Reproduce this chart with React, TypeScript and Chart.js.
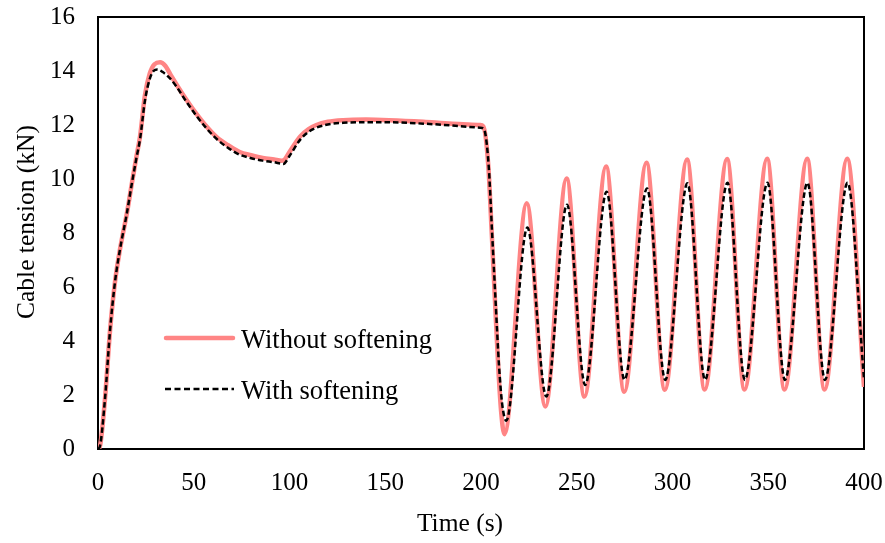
import React, { useEffect, useRef } from "react";
import { Chart, registerables } from "chart.js";

Chart.register(...registerables);

// Time (s) and cable tension (kN) — without softening (solid salmon)
const timeWithout = [
  0, 1, 3.7, 6.3, 8.9, 11.5, 15, 17.6, 20, 22, 24.5, 27, 29.5, 32.4, 35, 38, 41, 46, 51.5, 56, 62, 68, 74, 80, 86, 92, 96, 97.5,
  100, 105.5, 110, 114, 120, 128, 140, 152, 170, 185, 199.5, 201.2, 203.8, 205.6, 207.3, 209, 210.5, 212.2,
  223.9, 233.6, 244.7, 254.0, 265.3, 274.8, 286.4, 296.0, 307.6, 316.8, 328.5, 337.6, 349.4, 358.5, 370.3, 379.4, 391.2, 400,
];
const tensionWithout = [
  0, 0.1, 1.9, 4.4, 6.2, 7.4, 8.7, 9.8, 10.8, 11.6, 13.1, 13.9, 14.25, 14.32, 14.2, 13.85, 13.5, 12.95, 12.4, 12.0, 11.55, 11.25, 11.0, 10.88, 10.78, 10.72, 10.68, 10.72,
  11.0, 11.57, 11.85, 12.0, 12.12, 12.18, 12.2, 12.18, 12.12, 12.05, 12.0, 11.95, 10.5, 8.0, 5.5, 3.05, 1.4, 0.55,
  9.1, 1.57, 10.02, 1.94, 10.46, 2.12, 10.6, 2.19, 10.72, 2.2, 10.74, 2.2, 10.75, 2.2, 10.75, 2.2, 10.75, 2.3,
];

// With softening (black dashed)
const timeWith = [
  0, 1, 3.7, 6.3, 8.9, 11.5, 15, 17.6, 20, 22, 24.5, 27, 29, 31, 34, 38, 41, 46, 51.5, 56, 62, 68, 74, 80, 86, 92, 96.8,
  100, 105.5, 110, 114, 120, 128, 140, 152, 170, 185, 199.5, 201.5, 204, 205.8, 207.6, 209.4, 211, 213.2,
  224.2, 234.1, 244.9, 254.4, 265.6, 274.9, 286.7, 296.2, 307.8, 317.0, 328.7, 337.8, 349.6, 358.7, 370.5, 379.6, 391.4, 400,
];
const tensionWith = [
  0, 0.1, 1.9, 4.4, 6.2, 7.4, 8.7, 9.8, 10.75, 11.5, 12.9, 13.7, 14.0, 14.06, 13.95, 13.7, 13.42, 12.88, 12.33, 11.93, 11.48, 11.15, 10.9, 10.77, 10.68, 10.62, 10.56,
  10.85, 11.45, 11.75, 11.9, 12.02, 12.08, 12.1, 12.1, 12.05, 11.98, 11.9, 11.85, 10.5, 8.0, 5.5, 3.1, 1.7, 1.05,
  8.2, 1.94, 9.05, 2.37, 9.53, 2.56, 9.65, 2.56, 9.84, 2.56, 9.86, 2.56, 9.86, 2.56, 9.86, 2.56, 9.86, 2.6,
];

const seriesLabels = ["Without softening", "With softening"];
const axisTitles = { x: "Time (s)", y: "Cable tension (kN)" };
const xTicks = { min: 0, max: 400, step: 50 };
const yTicks = { min: 0, max: 16, step: 2 };

const SALMON = "#FF8585";
const FONT = "'Liberation Serif', 'Times New Roman', serif";

const boxAndLegend = {
  id: "boxAndLegend",
  beforeDatasetsDraw(chart: any) {
    const { ctx, chartArea: a } = chart;
    ctx.save();
    ctx.strokeStyle = "#000";
    ctx.lineWidth = 2;
    ctx.strokeRect(a.left, a.top, a.right - a.left, a.bottom - a.top);
    ctx.restore();
  },
  afterDraw(chart: any) {
    const { ctx } = chart;
    ctx.save();
    // legend entries
    ctx.strokeStyle = SALMON;
    ctx.lineWidth = 4.5;
    ctx.lineCap = "round";
    ctx.beginPath();
    ctx.moveTo(166, 338);
    ctx.lineTo(233, 338);
    ctx.stroke();
    ctx.strokeStyle = "#000";
    ctx.lineWidth = 2.5;
    ctx.lineCap = "butt";
    ctx.setLineDash([6, 3.5]);
    ctx.beginPath();
    ctx.moveTo(165, 389);
    ctx.lineTo(234, 389);
    ctx.stroke();
    ctx.setLineDash([]);
    ctx.fillStyle = "#000";
    ctx.font = `26.5px ${FONT}`;
    ctx.textBaseline = "alphabetic";
    ctx.textAlign = "left";
    ctx.fillText(seriesLabels[0], 241, 348);
    ctx.fillText(seriesLabels[1], 241, 399);
    // axis titles
    ctx.font = `25.5px ${FONT}`;
    ctx.textAlign = "center";
    ctx.fillText(axisTitles.x, 460, 531);
    ctx.translate(33.5, 222);
    ctx.rotate(-Math.PI / 2);
    ctx.fillText(axisTitles.y, 0, 0);
    ctx.restore();
  },
};

export default function App() {
  const ref = useRef<HTMLCanvasElement | null>(null);

  useEffect(() => {
    document.body.style.margin = "0";
    const canvas = ref.current;
    if (!canvas) return;
    const chart = new Chart(canvas, {
      type: "line",
      data: {
        datasets: [
          {
            label: seriesLabels[1],
            data: timeWith.map((t, i) => ({ x: t, y: tensionWith[i] })),
            borderColor: "#000",
            borderWidth: 2.5,
            borderDash: [5.5, 3],
            pointRadius: 0,
            fill: false,
            cubicInterpolationMode: "monotone",
          },
          {
            label: seriesLabels[0],
            data: timeWithout.map((t, i) => ({ x: t, y: tensionWithout[i] })),
            borderColor: SALMON,
            borderWidth: 4.5,
            pointRadius: 0,
            fill: false,
            cubicInterpolationMode: "monotone",
          },
        ],
      },
      options: {
        animation: false,
        responsive: false,
        events: [],
        layout: { padding: { top: 17, right: 21, left: 0, bottom: 0 } },
        plugins: { legend: { display: false }, tooltip: { enabled: false } },
        scales: {
          x: {
            type: "linear",
            min: xTicks.min,
            max: xTicks.max,
            grid: { display: false, drawTicks: false },
            border: { display: false },
            ticks: {
              stepSize: xTicks.step,
              color: "#000",
              font: { family: FONT, size: 25 },
              padding: 19,
              maxRotation: 0,
            },
            title: { display: false },
            afterFit(scale: any) {
              scale.height = 94;
              scale.paddingLeft = 0;
              scale.paddingRight = 0;
            },
          },
          y: {
            min: yTicks.min,
            max: yTicks.max,
            grid: { display: false, drawTicks: false },
            border: { display: false },
            ticks: {
              stepSize: yTicks.step,
              color: "#000",
              font: { family: FONT, size: 25 },
              padding: 23,
            },
            title: { display: false },
            afterFit(scale: any) {
              scale.width = 98;
              scale.paddingTop = 0;
              scale.paddingBottom = 0;
            },
          },
        },
      },
      plugins: [boxAndLegend],
    });
    return () => chart.destroy();
  }, []);

  return <canvas ref={ref} width={885} height={543} style={{ display: "block" }} />;
}
